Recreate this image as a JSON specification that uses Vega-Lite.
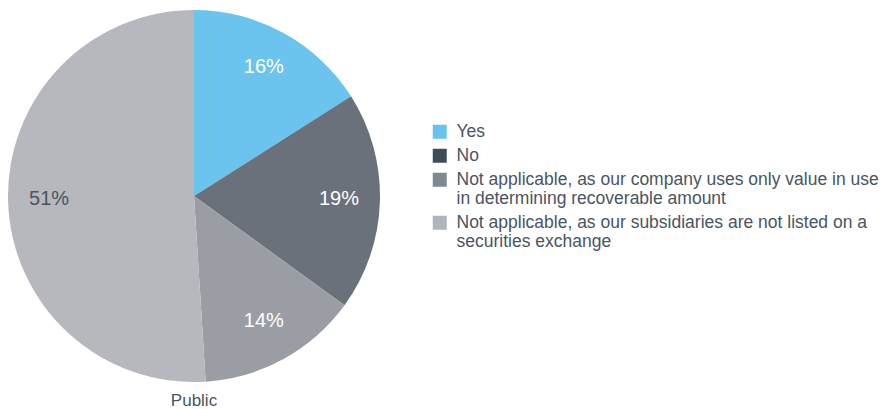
{
  "$schema": "https://vega.github.io/schema/vega-lite/v6.json",
  "width": 372,
  "height": 372,
  "padding": {"left": 8, "top": 10, "right": 0, "bottom": 0},
  "background": "white",
  "title": {"text": "Public", "orient": "bottom", "anchor": "middle", "fontSize": 17, "fontWeight": "normal", "color": "#4A5560", "font": "Liberation Sans", "offset": 11},
  "config": {"view": {"stroke": null}},
  "data": {"values": [
    {"answer": "Yes", "value": 16, "order": 1, "label": "16%"},
    {"answer": "No", "value": 19, "order": 2, "label": "19%"},
    {"answer": "Not applicable, as our company uses only value in use|in determining recoverable amount", "value": 14, "order": 3, "label": "14%"},
    {"answer": "Not applicable, as our subsidiaries are not listed on a|securities exchange", "value": 51, "order": 4, "label": "51%"}
  ]},
  "layer": [
    {
      "mark": {"type": "arc", "outerRadius": 186},
      "encoding": {
        "theta": {"field": "value", "type": "quantitative", "stack": true},
        "order": {"field": "order", "type": "quantitative"},
        "color": {"field": "answer", "type": "nominal", "sort": null, "legend": null,
          "scale": {"domain": ["Yes", "No", "Not applicable, as our company uses only value in use|in determining recoverable amount", "Not applicable, as our subsidiaries are not listed on a|securities exchange"],
            "range": ["#6AC4EE", "#6A717B", "#9B9DA4", "#B7B8BD"]}}
      }
    },
    {
      "mark": {"type": "arc", "outerRadius": 186, "opacity": 0},
      "encoding": {
        "theta": {"field": "value", "type": "quantitative", "stack": true},
        "order": {"field": "order", "type": "quantitative"},
        "color": {"field": "answer", "type": "nominal", "sort": null,
          "scale": {"domain": ["Yes", "No", "Not applicable, as our company uses only value in use|in determining recoverable amount", "Not applicable, as our subsidiaries are not listed on a|securities exchange"],
            "range": ["#68C4EE", "#3E4C57", "#7E8A92", "#AEB5BD"]},
          "legend": {"title": null, "orient": "none", "legendX": 423, "legendY": 113, "symbolType": "square", "symbolSize": 196, "symbolOpacity": 1, "symbolStrokeWidth": 0,
            "labelFontSize": 17.5, "labelFont": "Liberation Sans", "labelColor": "#4A5560", "labelLimit": 600, "labelOffset": 8, "rowPadding": 5,
            "labelExpr": "split(datum.label, '|')"}}
      }
    },
    {
      "mark": {"type": "text", "radius": 145, "dy": -2, "fontSize": 20, "font": "Liberation Sans"},
      "encoding": {
        "theta": {"field": "value", "type": "quantitative", "stack": true},
        "order": {"field": "order", "type": "quantitative"},
        "text": {"field": "label"},
        "fill": {"condition": {"test": "datum.order == 4", "value": "#4A5560"}, "value": "white"}
      }
    }
  ],
  "resolve": {"scale": {"color": "independent"}}
}
